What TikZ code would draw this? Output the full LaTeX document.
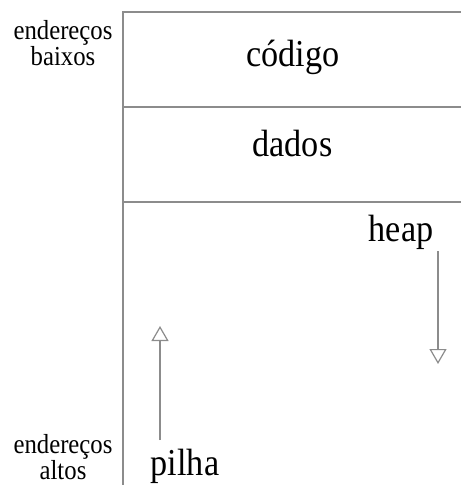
\documentclass[tikz,border=0pt]{standalone}
\usepackage{fontspec}
\setmainfont[FakeStretch=0.9]{Liberation Serif}
\usetikzlibrary{arrows.meta}
\begin{document}
\begin{tikzpicture}[x=1pt,y=-1pt,
  wall/.style={draw=black!45, line width=1.2pt},
  growth/.style={draw=black!45, line width=1.2pt,
    -{Triangle[open,width=17pt,length=15pt,fill=white]}},
  region/.style={inner sep=0pt, anchor=base, font=\fontsize{38}{38}\selectfont},
  addr/.style={inner sep=0pt, anchor=base, align=center,
    font=\fontsize{27.5}{24}\selectfont}]
\useasboundingbox (0,0) rectangle (461,485);
% memory map outline
\coordinate (topleft) at (123,12);
\coordinate (topright) at (461,12);
\coordinate (bottomleft) at (123,485);
\coordinate (sep1l) at (123,107);
\coordinate (sep1r) at (461,107);
\coordinate (sep2l) at (123,202);
\coordinate (sep2r) at (461,202);
\draw[wall] (bottomleft) -- (topleft) -- (topright);
\draw[wall] (sep1l) -- (sep1r);
\draw[wall] (sep2l) -- (sep2r);
% segment names
\node[region] (code) at (293,66.5) {código};
\node[region] (data) at (292.5,156.5) {dados};
\node[region] (heap) at (401,241.5) {heap};
\node[region] (stack) at (185,475) {pilha};
% address labels
\node[addr] (low) at (63,65.5) {endereços\\baixos};
\node[addr] (high) at (63,479.5) {endereços\\altos};
% growth directions
\coordinate (heapfrom) at (438,251);
\coordinate (heapto) at (438,364);
\coordinate (stackfrom) at (160,440);
\coordinate (stackto) at (160,326);
\draw[growth] (heapfrom) -- (heapto);
\draw[growth] (stackfrom) -- (stackto);
\end{tikzpicture}
\end{document}
